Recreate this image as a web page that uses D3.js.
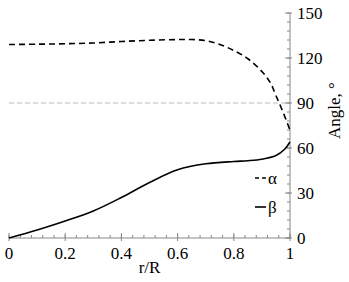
<!DOCTYPE html>
<html>
<head>
<meta charset="utf-8">
<script src="https://cdn.jsdelivr.net/npm/d3@7"></script>
<style>
  body { margin: 0; background: #fff; }
</style>
</head>
<body>
<div id="chart"></div>
<script>
// r/R positions
const rAlpha = [0, 0.1, 0.2, 0.3, 0.4, 0.5, 0.6, 0.65, 0.7, 0.75, 0.8, 0.85, 0.9, 0.93, 0.95, 0.975, 1.0];
const alpha  = [129, 129.2, 129.5, 130, 131, 131.8, 132.3, 132.3, 131.6, 129, 125, 119.5, 111, 103.5, 95, 84, 72];
const rBeta = [0, 0.1, 0.2, 0.3, 0.4, 0.5, 0.6, 0.7, 0.8, 0.85, 0.9, 0.95, 0.98, 1.0];
const beta  = [0, 5.3, 11.3, 18, 27, 37, 45.5, 49.5, 51, 51.5, 52.5, 55, 59, 64];
const xTicks = [0, 0.2, 0.4, 0.6, 0.8, 1];
const yTicks = [0, 30, 60, 90, 120, 150];
const refAngle = 90;

const width = 349, height = 282;
const margin = { top: 13, right: 59, bottom: 44, left: 9 };
const w = width - margin.left - margin.right;
const h = height - margin.top - margin.bottom;
const font = "'Liberation Serif', 'Times New Roman', Times, serif";

const svg = d3.select("#chart").append("svg")
  .attr("width", width)
  .attr("height", height)
  .attr("font-family", font);
const g = svg.append("g").attr("transform", `translate(${margin.left}, ${margin.top})`);

const x = d3.scaleLinear().domain([0, 1]).range([0, w]);
const y = d3.scaleLinear().domain([0, 150]).range([h, 0]);

// reference line at 90
g.append("line")
  .attr("x1", x(0)).attr("x2", x(1))
  .attr("y1", y(refAngle)).attr("y2", y(refAngle))
  .attr("stroke", "#bbb").attr("stroke-width", 1)
  .attr("stroke-dasharray", "5,3");

// x axis
const xAxis = g.append("g").attr("transform", `translate(0, ${h})`);
xAxis.append("line").attr("x1", 0).attr("x2", w).attr("stroke", "#888");
xAxis.selectAll(".minor").data(d3.range(0, 1.0001, 0.04))
  .enter().append("line")
  .attr("x1", d => x(d)).attr("x2", d => x(d))
  .attr("y1", 0).attr("y2", -3).attr("stroke", "#888");
xAxis.selectAll(".major").data(xTicks)
  .enter().append("line")
  .attr("x1", d => x(d)).attr("x2", d => x(d))
  .attr("y1", 3).attr("y2", -5).attr("stroke", "#888");
xAxis.selectAll(".lbl").data(xTicks)
  .enter().append("text")
  .attr("x", d => x(d)).attr("y", 21)
  .attr("text-anchor", "middle")
  .attr("font-size", 17)
  .text(d => d3.format("")(d));

g.append("text")
  .attr("x", w / 2).attr("y", h + 35)
  .attr("text-anchor", "middle")
  .attr("font-size", 17)
  .text("r/R");

// y axis on the right
const yAxis = g.append("g").attr("transform", `translate(${w}, 0)`);
yAxis.append("line").attr("y1", 0).attr("y2", h).attr("stroke", "#888");
yAxis.selectAll(".minor").data(d3.range(0, 150.001, 6))
  .enter().append("line")
  .attr("y1", d => y(d)).attr("y2", d => y(d))
  .attr("x1", 0).attr("x2", -3).attr("stroke", "#888");
yAxis.selectAll(".major").data(yTicks)
  .enter().append("line")
  .attr("y1", d => y(d)).attr("y2", d => y(d))
  .attr("x1", 2).attr("x2", -5).attr("stroke", "#888");
yAxis.selectAll(".lbl").data(yTicks)
  .enter().append("text")
  .attr("x", 7).attr("y", d => y(d) + 6)
  .attr("font-size", 17)
  .text(d => d);

g.append("text")
  .attr("transform", `translate(${w + 50}, ${h / 2 - 15}) rotate(-90)`)
  .attr("text-anchor", "middle")
  .attr("font-size", 17)
  .text("Angle, °");

// curves
const line = d3.line().curve(d3.curveCatmullRom.alpha(0.5));
g.append("path")
  .attr("d", line(rAlpha.map((r, i) => [x(r), y(alpha[i])])))
  .attr("fill", "none").attr("stroke", "#000").attr("stroke-width", 1.6)
  .attr("stroke-dasharray", "6,4");
g.append("path")
  .attr("d", line(rBeta.map((r, i) => [x(r), y(beta[i])])))
  .attr("fill", "none").attr("stroke", "#000").attr("stroke-width", 1.6);

// legend
const legend = g.append("g").attr("transform", `translate(${w - 35}, ${y(40)})`);
const items = [{ name: "α", dash: "4,3" }, { name: "β", dash: null }];
items.forEach((d, i) => {
  const row = legend.append("g").attr("transform", `translate(0, ${i * 29})`);
  row.append("line")
    .attr("x1", 0).attr("x2", 11).attr("y1", 0).attr("y2", 0)
    .attr("stroke", "#000").attr("stroke-width", 1.6)
    .attr("stroke-dasharray", d.dash);
  row.append("text")
    .attr("x", 13).attr("y", 6)
    .attr("font-size", 17)
    .text(d.name);
});
</script>
</body>
</html>
